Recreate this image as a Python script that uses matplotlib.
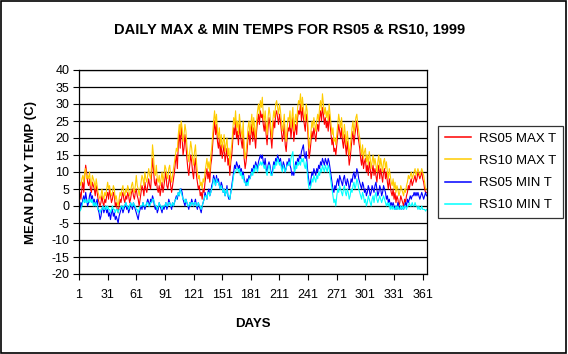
import numpy as np
import matplotlib
matplotlib.use("Agg")
import matplotlib.pyplot as plt
from matplotlib.patches import Rectangle

plt.rcParams['font.family'] = ['Liberation Sans', 'DejaVu Sans']
plt.rcParams['axes.unicode_minus'] = False

# daily values (days 1..365)
rs05_max = [
    3, 4, 2, 5, 7, 4, 9, 12, 10, 7,
    6, 8, 5, 4, 7, 6, 5, 3, 6, 4,
    2, 1, 0, 1, 3, 1, 0, 2, 1, 3,
    4, 2, 5, 3, 1, 2, 4, 3, 0, 1,
    -1, -2, 0, 2, 1, 3, 4, 2, 1, 3,
    2, 4, 3, 1, 2, 4, 5, 3, 2, 4,
    5, 3, 2, 0, 2, 4, 6, 5, 3, 7,
    5, 4, 6, 8, 6, 5, 9, 14, 11, 7,
    6, 8, 5, 4, 6, 3, 5, 7, 4, 6,
    8, 10, 6, 5, 7, 9, 6, 4, 6, 8,
    10, 13, 15, 11, 18, 22, 17, 24, 20, 15,
    17, 21, 18, 14, 11, 9, 12, 15, 13, 10,
    8, 12, 14, 9, 7, 5, 6, 3, 4, 2,
    5, 4, 7, 9, 11, 8, 10, 7, 12, 14,
    18, 22, 25, 21, 24, 19, 17, 20, 15, 18,
    14, 16, 18, 13, 15, 17, 12, 14, 9, 13,
    15, 19, 23, 21, 25, 20, 22, 18, 24, 21,
    19, 17, 22, 14, 11, 13, 16, 20, 22, 18,
    21, 24, 19, 23, 20, 17, 22, 25, 27, 24,
    28, 26, 27, 24, 22, 25, 21, 18, 23, 26,
    24, 20, 17, 22, 25, 23, 27, 28, 26, 24,
    27, 25, 22, 19, 21, 24, 18, 16, 20, 23,
    22, 25, 20, 23, 26, 19, 22, 24, 21, 26,
    28, 27, 30, 25, 29, 26, 24, 22, 27, 25,
    20, 14, 16, 19, 22, 20, 23, 21, 19, 22,
    24, 22, 26, 28, 25, 29, 27, 24, 26, 23,
    25, 22, 27, 24, 21, 18, 20, 16, 17, 15,
    18, 21, 24, 22, 20, 23, 19, 17, 21, 18,
    15, 19, 16, 12, 14, 17, 20, 22, 18, 21,
    23, 25, 21, 19, 17, 14, 12, 15, 11, 13,
    14, 10, 12, 9, 13, 11, 8, 10, 12, 9,
    11, 9, 7, 10, 12, 8, 11, 9, 7, 10,
    11, 8, 10, 7, 5, 8, 6, 4, 3, 5,
    2, 4, 1, 3, 2, 0, 1, 3, 2, 1,
    0, 2, 1, 3, 4, 6, 5, 7, 8, 6,
    7, 8, 9, 7, 8, 10, 9, 8, 9, 10,
    8, 7, 5, 4, 4,
]

rs10_max = [
    5, 7, 6, 8, 9, 7, 10, 11, 8, 9,
    8, 10, 7, 6, 9, 8, 7, 5, 8, 6,
    4, 3, 2, 3, 5, 3, 2, 4, 3, 5,
    7, 5, 6, 4, 3, 4, 6, 5, 2, 3,
    1, 0, 2, 4, 3, 5, 6, 4, 3, 5,
    4, 6, 5, 3, 4, 6, 7, 5, 4, 6,
    9, 6, 5, 3, 5, 7, 9, 8, 6, 10,
    8, 7, 9, 11, 9, 8, 12, 18, 15, 10,
    9, 12, 8, 7, 9, 6, 8, 10, 7, 9,
    12, 11, 9, 8, 11, 12, 9, 7, 9, 11,
    13, 15, 17, 16, 21, 24, 21, 25, 23, 19,
    21, 24, 22, 18, 15, 13, 16, 19, 17, 14,
    12, 16, 18, 13, 10, 8, 9, 6, 7, 5,
    8, 7, 10, 12, 14, 11, 13, 10, 15, 17,
    21, 25, 28, 24, 27, 22, 20, 23, 18, 21,
    17, 19, 21, 16, 18, 20, 15, 17, 12, 16,
    18, 22, 26, 24, 28, 23, 25, 21, 27, 24,
    22, 20, 25, 17, 14, 16, 19, 23, 25, 21,
    24, 27, 22, 26, 23, 20, 25, 28, 30, 27,
    31, 29, 32, 27, 25, 28, 24, 21, 26, 29,
    27, 23, 20, 25, 28, 26, 30, 31, 29, 27,
    30, 28, 25, 22, 24, 27, 21, 19, 23, 26,
    25, 28, 23, 26, 29, 22, 25, 27, 24, 29,
    31, 30, 33, 28, 32, 29, 27, 25, 30, 28,
    23, 17, 19, 22, 25, 23, 26, 24, 22, 25,
    27, 25, 29, 31, 28, 33, 30, 27, 29, 26,
    28, 25, 30, 27, 24, 21, 23, 19, 20, 18,
    21, 24, 27, 25, 23, 26, 22, 20, 24, 21,
    18, 22, 19, 15, 17, 20, 23, 25, 21, 24,
    26, 27, 24, 22, 20, 17, 15, 18, 14, 16,
    17, 13, 15, 12, 16, 14, 11, 13, 15, 12,
    14, 12, 10, 13, 15, 11, 14, 12, 10, 13,
    14, 11, 13, 10, 8, 11, 9, 7, 6, 8,
    5, 7, 4, 6, 5, 3, 4, 6, 5, 4,
    3, 5, 4, 6, 7, 9, 8, 9, 10, 8,
    9, 10, 11, 9, 10, 11, 10, 9, 10, 11,
    10, 9, 7, 5, 5,
]

rs05_min = [
    0, -1, 1, 0, 2, 3, 1, 4, 2, 0,
    1, 3, 4, 2, 3, 1, 2, 0, 1, 2,
    -1, -2, -4, -3, -1, 0, -2, -1, 0, -2,
    -1, -3, -2, -4, -2, -1, -3, -2, -4, -3,
    -4, -5, -3, -2, -1, 0, -2, -1, 0, 1,
    -1, 0, -2, -1, 1, 0, -1, 1, 0, -1,
    -2, -3, -4, -2, -1, 0, -1, 1, 0, -1,
    0, 1, 2, 1, 0, 2, 1, 3, 2, 0,
    -1, 0, -2, -1, 1, 0, -1, -2, 0, -1,
    0, 1, -1, 0, 2, 1, 0, -1, 1, 0,
    1, 2, 3, 2, 4, 3, 5, 5, 4, 2,
    1, 0, 2, 1, 0, -1, 1, 0, 2, 1,
    0, 1, 2, 0, -1, 1, 0, -1, -2, 0,
    1, 2, 4, 3, 2, 4, 5, 3, 4, 6,
    7, 9, 8, 6, 9, 7, 8, 6, 5, 7,
    6, 4, 5, 3, 4, 6, 3, 2, 2, 4,
    6, 8, 10, 12, 11, 13, 12, 11, 12, 10,
    11, 9, 10, 8, 7, 6, 8, 7, 9, 8,
    9, 11, 10, 12, 11, 13, 12, 11, 13, 14,
    15, 14, 15, 13, 12, 14, 11, 10, 12, 13,
    12, 10, 9, 11, 13, 12, 14, 13, 15, 14,
    13, 14, 12, 11, 13, 12, 10, 11, 13, 12,
    14, 12, 11, 9, 10, 9, 11, 13, 12, 14,
    13, 15, 14, 16, 17, 18, 15, 14, 16, 12,
    9, 7, 6, 8, 10, 9, 11, 10, 9, 11,
    10, 12, 11, 13, 12, 14, 13, 12, 14, 13,
    12, 14, 13, 11, 9, 7, 5, 4, 6, 5,
    7, 8, 6, 9, 8, 7, 6, 8, 9, 7,
    6, 8, 7, 5, 6, 8, 7, 9, 10, 8,
    9, 11, 10, 8, 7, 6, 5, 7, 6, 4,
    5, 3, 4, 6, 5, 3, 4, 6, 5, 4,
    6, 7, 5, 3, 4, 6, 5, 3, 4, 6,
    5, 4, 2, 3, 1, 2, 0, 1, 0, 1,
    0, -1, 0, -1, 1, 0, -1, 0, -1, 0,
    -1, 0, 1, 0, 2, 1, 2, 3, 2, 3,
    3, 4, 3, 4, 3, 4, 3, 2, 3, 4,
    3, 2, 3, 4, 3,
]

rs10_min = [
    -1, -1.5, -1, 0, 1, 2, 1, 2, 1, 1,
    2, 1, 2, 1, 2, 0, 1, 0, 1, 0,
    -1, -1, -2, -1, -1, 0, -1, -1, 0, -1,
    0, -1, -1, -2, -1, 0, -1, -1, -2, -1,
    -1, -2, -1, -1, 0, 0, -1, 0, 0, 1,
    0, 0, -1, 0, 1, 0, 0, 1, 0, 0,
    -1, -1, -2, -1, 0, 0, 0, 1, 0, 0,
    0, 1, 1, 0, 0, 1, 1, 2, 2, 1,
    0, 0, -1, 0, 1, 0, 0, -1, 0, 0,
    0, 1, 0, 0, 1, 1, 0, 0, 1, 0,
    1, 2, 2, 3, 4, 3, 5, 4, 3, 2,
    2, 1, 2, 1, 0, 0, 1, 0, 1, 1,
    0, 1, 1, 0, 0, 1, 0, 0, -1, 0,
    1, 2, 3, 3, 2, 4, 4, 3, 4, 5,
    6, 8, 7, 6, 8, 7, 7, 6, 5, 6,
    5, 4, 5, 3, 4, 5, 3, 3, 2, 4,
    5, 7, 9, 10, 10, 11, 11, 10, 11, 9,
    10, 8, 9, 7, 7, 6, 7, 6, 8, 8,
    9, 10, 9, 11, 10, 12, 11, 10, 12, 12,
    13, 12, 13, 12, 11, 12, 10, 9, 11, 12,
    11, 9, 9, 10, 12, 11, 13, 12, 14, 13,
    12, 13, 11, 10, 12, 11, 10, 11, 12, 12,
    13, 12, 14, 15, 16, 11, 10, 12, 11, 13,
    12, 13, 12, 14, 13, 14, 12, 11, 13, 10,
    7, 5, 5, 6, 8, 7, 9, 8, 7, 9,
    8, 10, 9, 11, 10, 12, 11, 10, 12, 11,
    10, 12, 11, 9, 7, 5, 3, 1, 2, 0,
    3, 5, 4, 6, 5, 4, 3, 5, 6, 4,
    3, 5, 4, 2, 3, 5, 4, 6, 7, 5,
    6, 8, 7, 5, 4, 3, 2, 4, 3, 1,
    2, 0, 1, 3, 2, 1, 0, 2, 3, 1,
    3, 4, 2, 1, 2, 3, 2, 1, 2, 3,
    2, 1, 0, 1, 0, 1, -1, 0, -1, 0,
    -1, -1, 0, -1, 0, -1, -1, 0, -1, 0,
    -1, 0, 0, -1, 0, 0, 1, 0, 0, 1,
    0, 0, 1, 0, 0, -1, 0, -1, -1, 0,
    -1, -1, -1, -1.5, -1,
]

series_names = ['RS05 MAX T', 'RS10 MAX T', 'RS05 MIN T', 'RS10 MIN T']
series_colors = ['#FF0000', '#FFCC00', '#0000FF', '#00FFFF']
x_ticks = [1, 31, 61, 91, 121, 151, 181, 211, 241, 271, 301, 331, 361]
y_ticks = list(range(-20, 45, 5))


def main():
    days = np.arange(1, len(rs05_max) + 1)
    fig = plt.figure(figsize=(5.68, 3.54), dpi=100)
    ax = fig.add_axes([79 / 568, 1 - 274 / 354, 348 / 568, 204 / 354])

    for vals, name, col in zip([rs05_max, rs10_max, rs05_min, rs10_min],
                               series_names, series_colors):
        ax.plot(days, vals, color=col, lw=0.8, label=name)

    ax.set_xlim(1, 365.5)
    ax.set_ylim(-20, 40)
    ax.set_yticks(y_ticks)
    ax.set_xticks(x_ticks)
    ax.yaxis.grid(True, color='black', lw=0.9)
    ax.set_axisbelow(True)
    ax.tick_params(axis='both', direction='out', length=4, width=0.8,
                   labelsize=9, pad=3)
    ax.tick_params(axis='x', pad=7)
    for sp in ax.spines.values():
        sp.set_color('black')
        sp.set_linewidth(0.9)

    ax.set_xlabel('DAYS', fontsize=9.5, fontweight='bold', labelpad=12)
    ax.set_ylabel('MEAN DAILY TEMP (C)', fontsize=9.5, fontweight='bold', labelpad=10)
    fig.text(290 / 568, 1 - 30 / 354, 'DAILY MAX & MIN TEMPS FOR RS05 & RS10, 1999',
             ha='center', va='center', fontsize=10.5, fontweight='bold')

    leg = ax.legend(loc='center left', bbox_to_anchor=(438 / 568, 1 - 172 / 354),
                    bbox_transform=fig.transFigure, frameon=True, fancybox=False,
                    fontsize=9.5, handlelength=2.0, borderpad=0.5, labelspacing=0.75,
                    handletextpad=0.6, borderaxespad=0)
    leg.get_frame().set_edgecolor('black')
    leg.get_frame().set_linewidth(0.9)
    for h in leg.get_lines():
        h.set_linewidth(1.1)

    fig.patches.append(Rectangle((0.001, 0.002), 0.996, 0.994, transform=fig.transFigure,
                                 fill=False, edgecolor='black', lw=1.2))
    fig.savefig('out.png', dpi=100)


if __name__ == "__main__":
    main()
